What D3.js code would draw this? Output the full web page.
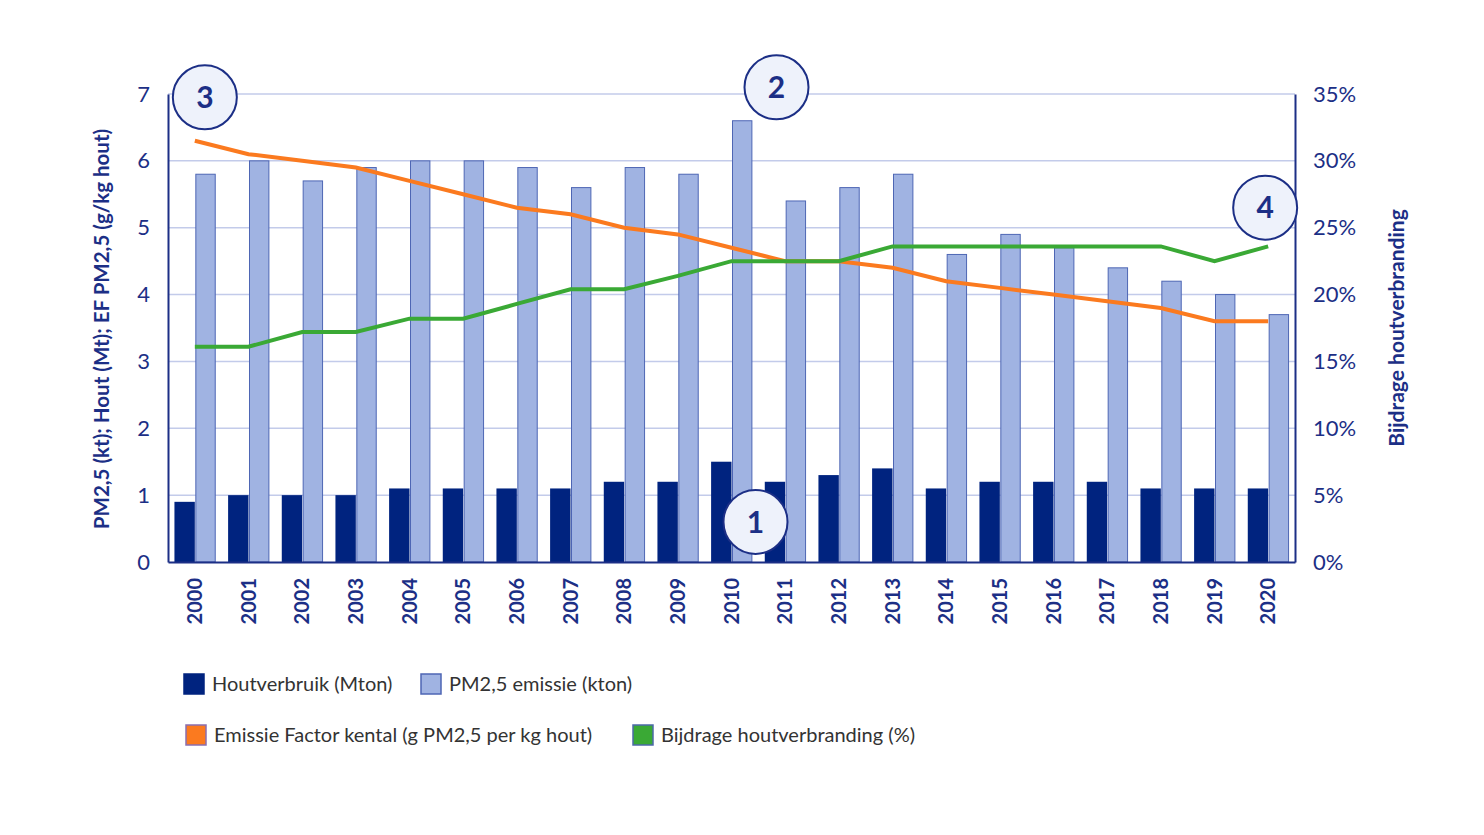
<!DOCTYPE html>
<html><head><meta charset="utf-8">
<script src="https://cdn.jsdelivr.net/npm/d3@7"></script>
<style>body{margin:0;background:#fff;} svg{display:block;font-family:Lato, "Open Sans", sans-serif;}</style>
</head><body>
<svg id="c" width="1484" height="835"></svg>
<script>
const years = ["2000","2001","2002","2003","2004","2005","2006","2007","2008","2009","2010","2011","2012","2013","2014","2015","2016","2017","2018","2019","2020"];
const houtverbruik = [0.9,1.0,1.0,1.0,1.1,1.1,1.1,1.1,1.2,1.2,1.5,1.2,1.3,1.4,1.1,1.2,1.2,1.2,1.1,1.1,1.1];
const pm25 = [5.8,6.0,5.7,5.9,6.0,6.0,5.9,5.6,5.9,5.8,6.6,5.4,5.6,5.8,4.6,4.9,4.7,4.4,4.2,4.0,3.7];
const emissieFactor = [6.3,6.1,6.0,5.9,5.7,5.5,5.3,5.2,5.0,4.9,4.7,4.5,4.5,4.4,4.2,4.1,4.0,3.9,3.8,3.6,3.6];
const bijdrage = [16.1,16.1,17.2,17.2,18.2,18.2,19.3,20.4,20.4,21.4,22.5,22.5,22.5,23.6,23.6,23.6,23.6,23.6,23.6,22.5,23.6];
const leftTicks = [0,1,2,3,4,5,6,7];
const rightTicks = [0,5,10,15,20,25,30,35];
const annotations = [{n:"3", year:"2000", v:6.95, dx:10},{n:"2", year:"2010", v:7.1, dx:45},{n:"4", year:"2020", v:5.3, dx:-3},{n:"1", year:"2010", v:0.6, dx:24}];

const navy = "#1c2f86", dark = "#00237f", light = "#a0b3e2", orange = "#fb7a1f", green = "#3aa935";
const svg = d3.select("#c");
const L = 168, R = 1295, T = 94, B = 562;
const x = d3.scaleBand().domain(years).range([L, R]).paddingInner(0.24).paddingOuter(0.12);
const xc = d3.scaleBand().domain(years).range([L, R]);
const y = d3.scaleLinear().domain([0,7]).range([B, T]);
const y2 = d3.scaleLinear().domain([0,35]).range([B, T]);
const sub = d3.scaleBand().domain(["h","p"]).range([0, x.bandwidth()]).padding(0);

// gridlines
svg.append("g").selectAll("line").data(leftTicks.filter(d=>d>0)).join("line")
  .attr("x1", L).attr("x2", R).attr("y1", d=>y(d)).attr("y2", d=>y(d))
  .attr("stroke", "#c3cbea").attr("stroke-width", 1.5);

// bars
const g = svg.append("g");
g.selectAll(".h").data(years).join("rect")
  .attr("x", (d)=>x(d)+sub("h")).attr("width", sub.bandwidth())
  .attr("y", (d,i)=>y(houtverbruik[i])).attr("height", (d,i)=>y(0)-y(houtverbruik[i]))
  .attr("fill", dark);
g.selectAll(".p").data(years).join("rect")
  .attr("x", (d)=>x(d)+sub("p")+1).attr("width", sub.bandwidth()-1)
  .attr("y", (d,i)=>y(pm25[i])).attr("height", (d,i)=>y(0)-y(pm25[i]))
  .attr("fill", light).attr("stroke", "#4e66b4").attr("stroke-width", 1);

// lines
const cx = d => xc(d) + xc.bandwidth()/2;
svg.append("path").datum(years).attr("fill","none").attr("stroke", orange).attr("stroke-width", 4)
  .attr("d", d3.line().x(d=>cx(d)).y((d,i)=>y(emissieFactor[i])));
svg.append("path").datum(years).attr("fill","none").attr("stroke", green).attr("stroke-width", 4)
  .attr("d", d3.line().x(d=>cx(d)).y((d,i)=>y2(bijdrage[i])));

// axes
const ax = svg.append("g").attr("transform", `translate(${L},0)`).call(d3.axisLeft(y).tickValues(leftTicks).tickFormat(d3.format("d")).tickSize(0).tickPadding(18));
ax.select(".domain").attr("stroke", navy).attr("stroke-width", 2);
ax.selectAll("text").attr("fill", navy).style("font-size", "22px").style("font-family","Lato, sans-serif");
const ar = svg.append("g").attr("transform", `translate(${R},0)`).call(d3.axisRight(y2).tickValues(rightTicks).tickFormat(d=>d+"%").tickSize(0).tickPadding(18));
ar.select(".domain").attr("stroke", navy).attr("stroke-width", 2);
ar.selectAll("text").attr("fill", navy).style("font-size", "22px").style("font-family","Lato, sans-serif");
const ab = svg.append("g").attr("transform", `translate(0,${B})`).call(d3.axisBottom(xc).tickSize(0).tickPadding(0));
ab.select(".domain").attr("stroke", navy).attr("stroke-width", 2);
ab.selectAll("text").attr("fill", navy).style("font-size", "20px").style("font-weight","bold").style("font-family","Lato, sans-serif")
  .attr("transform", "rotate(-90)").attr("text-anchor","end").attr("dy","0.35em").attr("x", -16).attr("y", 0);

// axis titles
svg.append("text").attr("transform", `translate(109,329) rotate(-90)`).attr("text-anchor","middle")
  .attr("fill", navy).style("font-size","20.5px").style("font-weight","bold").text("PM2,5 (kt); Hout (Mt); EF PM2,5 (g/kg hout)");
svg.append("text").attr("transform", `translate(1404,328) rotate(-90)`).attr("text-anchor","middle")
  .attr("fill", navy).style("font-size","21px").style("font-weight","bold").text("Bijdrage houtverbranding");

// annotations
const an = svg.append("g").selectAll("g").data(annotations).join("g")
  .attr("transform", d=>`translate(${cx(d.year)+d.dx},${y(d.v)})`);
an.append("circle").attr("r", 32).attr("fill", "#eef2fb").attr("stroke", navy).attr("stroke-width", 2);
an.append("text").attr("text-anchor","middle").attr("dy","0.36em").attr("fill", navy)
  .style("font-size","30px").style("font-weight","bold").text(d=>d.n);

// legend
const legend = [
  {label:"Houtverbruik (Mton)", color: dark, stroke: dark, x:184, y:684},
  {label:"PM2,5 emissie (kton)", color: light, stroke:"#4e66b4", x:421, y:684},
  {label:"Emissie Factor kental (g PM2,5 per kg hout)", color: orange, stroke:"#8a6fb0", x:186, y:735},
  {label:"Bijdrage houtverbranding (%)", color: green, stroke:"#4c6aa8", x:633, y:735}
];
const lg = svg.append("g").selectAll("g").data(legend).join("g").attr("transform", d=>`translate(${d.x},${d.y})`);
lg.append("rect").attr("x",0).attr("y",-10).attr("width",20).attr("height",20).attr("fill", d=>d.color).attr("stroke", d=>d.stroke).attr("stroke-width",1.5);
lg.append("text").attr("x", 28).attr("dy","0.35em").attr("fill","#333").style("font-size","20px").text(d=>d.label);
</script>
</body></html>
